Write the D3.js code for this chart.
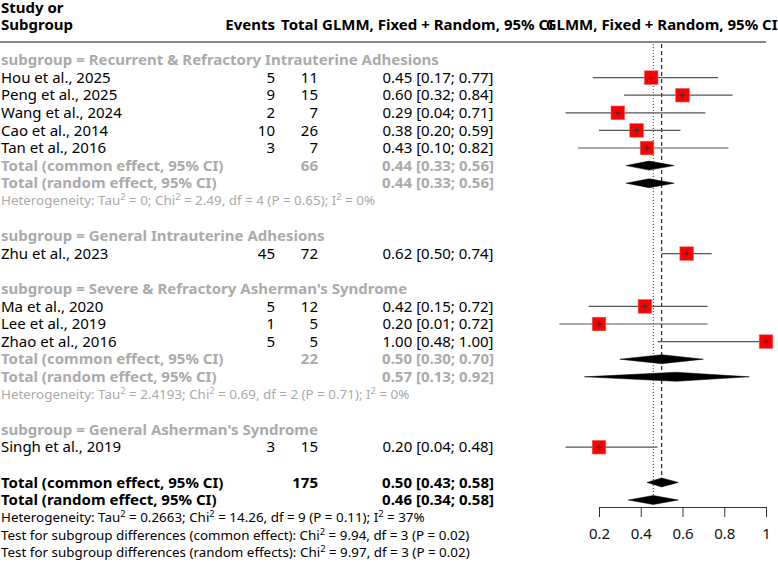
<!DOCTYPE html>
<html>
<head>
<meta charset="utf-8">
<script src="https://d3js.org/d3.v7.min.js"></script>
<style>
  body { margin: 0; background: #fff; font-family: "Noto Sans", sans-serif; }
  svg text { font-family: "Noto Sans", sans-serif; }
</style>
</head>
<body>
<script>
// study level data
var studyLabels = ["Hou et al., 2025", "Peng et al., 2025", "Wang et al., 2024", "Cao et al., 2014", "Tan et al., 2016",
                   "Zhu et al., 2023",
                   "Ma et al., 2020", "Lee et al., 2019", "Zhao et al., 2016",
                   "Singh et al., 2019"];
var studyGroup = [0, 0, 0, 0, 0, 1, 2, 2, 2, 3];
var events = [5, 9, 2, 10, 3, 45, 5, 1, 5, 3];
var totals = [11, 15, 7, 26, 7, 72, 12, 5, 5, 15];
var est   = [0.45, 0.60, 0.29, 0.38, 0.43, 0.62, 0.42, 0.20, 1.00, 0.20];
var lower = [0.17, 0.32, 0.04, 0.20, 0.10, 0.50, 0.15, 0.01, 0.48, 0.04];
var upper = [0.77, 0.84, 0.71, 0.59, 0.82, 0.74, 0.72, 0.72, 1.00, 0.48];

// subgroup data
var subgroupNames = ["Recurrent & Refractory Intrauterine Adhesions", "General Intrauterine Adhesions",
                     "Severe & Refractory Asherman's Syndrome", "General Asherman's Syndrome"];
var subTotal  = [66, null, 22, null];
var subCommon = [[0.44, 0.33, 0.56], null, [0.50, 0.30, 0.70], null];
var subRandom = [[0.44, 0.33, 0.56], null, [0.57, 0.13, 0.92], null];
var subHet = [["0", "2.49", "4", "0.65", "0%"], null, ["2.4193", "0.69", "2", "0.71", "0%"], null];

// overall
var overallTotal = 175;
var overallCommon = [0.50, 0.43, 0.58];
var overallRandom = [0.46, 0.34, 0.58];
var overallHet = ["0.2663", "14.26", "9", "0.11", "37%"];
var testCommon = ["9.94", "3", "0.02"];
var testRandom = ["9.97", "3", "0.02"];
var xTicks = [0.2, 0.4, 0.6, 0.8, 1];

var width = 778, height = 562;
var grey = "#aaaaaa";
var f2 = d3.format(".2f");

// build rows
var rows = [];
subgroupNames.forEach(function(name, g) {
    rows.push({type: "sub", label: "subgroup = " + name});
    studyGroup.forEach(function(sg, i) {
        if (sg === g) rows.push({type: "study", i: i});
    });
    if (subCommon[g]) {
        rows.push({type: "common", label: "Total (common effect, 95% CI)", total: subTotal[g], ci: subCommon[g], grey: true});
        rows.push({type: "random", label: "Total (random effect, 95% CI)", ci: subRandom[g], grey: true});
        rows.push({type: "het", h: subHet[g], grey: true});
    }
    rows.push({type: "blank"});
});
rows.push({type: "common", label: "Total (common effect, 95% CI)", total: overallTotal, ci: overallCommon});
rows.push({type: "random", label: "Total (random effect, 95% CI)", ci: overallRandom});
rows.push({type: "het", h: overallHet});
rows.push({type: "test", label: "Test for subgroup differences (common effect): ", t: testCommon});
rows.push({type: "test", label: "Test for subgroup differences (random effects): ", t: testRandom});

var y = d3.scaleLinear().domain([0, rows.length - 1]).range([60, 552.8]);
var x = d3.scaleLinear().domain([0.2, 1]).range([599, 766]);

var colStudy = 1, colEvents = 275, colTotal = 318, colCI = 438;
var plotCenter = (x(0) + x(1)) / 2;

var svg = d3.select("body").append("svg")
    .attr("width", width)
    .attr("height", height);

// header
function headText(txt, xx, yy, anchor) {
    svg.append("text").attr("x", xx).attr("y", yy).attr("dy", "0.35em")
        .attr("text-anchor", anchor).attr("font-size", 15).attr("font-weight", "bold")
        .attr("fill", "#000").text(txt);
}
headText("Study or", colStudy, y(-3) + 1, "start");
headText("Subgroup", colStudy, y(-2), "start");
headText("Events", colEvents, y(-2), "end");
headText("Total", colTotal, y(-2), "end");
headText("GLMM, Fixed + Random, 95% CI", colCI, y(-2), "middle");
headText("GLMM, Fixed + Random, 95% CI", plotCenter, y(-2), "middle");

svg.append("line")
    .attr("x1", 0).attr("x2", x(1))
    .attr("y1", 42).attr("y2", 42)
    .attr("stroke", "#888").attr("stroke-width", 2);

// reference lines
var iCommon = rows.length - 5, iRandom = rows.length - 4;
svg.append("line")
    .attr("x1", x(overallCommon[0])).attr("x2", x(overallCommon[0]))
    .attr("y1", 44).attr("y2", y(iCommon))
    .attr("stroke", "#333").attr("stroke-width", 1.3)
    .attr("stroke-dasharray", "4,3");
svg.append("line")
    .attr("x1", x(overallRandom[0])).attr("x2", x(overallRandom[0]))
    .attr("y1", 44).attr("y2", y(iRandom))
    .attr("stroke", "#333").attr("stroke-width", 1)
    .attr("stroke-dasharray", "1,2");

// text helper
function cell(txt, xx, yy, anchor, opts) {
    return svg.append("text").attr("x", xx).attr("y", yy).attr("dy", "0.35em")
        .attr("text-anchor", anchor)
        .attr("font-size", opts.size || 15)
        .attr("font-weight", opts.bold ? "bold" : "normal")
        .attr("fill", opts.fill || "#000")
        .text(txt);
}
function ciText(c) {
    return f2(c[0]) + " [" + f2(c[1]) + "; " + f2(c[2]) + "]";
}
function sup(t, txt) {
    t.append("tspan").attr("font-size", "70%").attr("dy", -5).text(txt);
    return t.append("tspan").attr("font-size", "100%").attr("dy", 5);
}
function hetLine(t, h) {
    t.append("tspan").text("Heterogeneity: Tau");
    sup(t, "2").text(" = " + h[0] + "; Chi");
    sup(t, "2").text(" = " + h[1] + ", df = " + h[2] + " (P = " + h[3] + "); I");
    sup(t, "2").text(" = " + h[4]);
}

function diamond(c, yy) {
    var hh = 4.5;
    svg.append("path")
        .attr("d", "M" + x(c[1]) + "," + yy + "L" + x(c[0]) + "," + (yy - hh) +
                   "L" + x(c[2]) + "," + yy + "L" + x(c[0]) + "," + (yy + hh) + "Z")
        .attr("fill", "#000").attr("stroke", "#000").attr("stroke-width", 0.5);
}

var box = 13.6;
rows.forEach(function(r, k) {
    var yy = y(k);
    var col = r.grey ? grey : "#000";
    if (r.type === "sub") {
        cell(r.label, colStudy, yy, "start", {bold: true, fill: grey});
    } else if (r.type === "study") {
        var i = r.i;
        cell(studyLabels[i], colStudy, yy, "start", {});
        cell(events[i], colEvents, yy, "end", {});
        cell(totals[i], colTotal, yy, "end", {});
        cell(ciText([est[i], lower[i], upper[i]]), colCI, yy, "middle", {});
        svg.append("line")
            .attr("x1", x(lower[i])).attr("x2", x(upper[i]))
            .attr("y1", yy).attr("y2", yy)
            .attr("stroke", "#555").attr("stroke-width", 1.2);
        svg.append("rect")
            .attr("x", x(est[i]) - box / 2).attr("y", yy - box / 2)
            .attr("width", box).attr("height", box)
            .attr("fill", "#ff0000").attr("stroke", "#e86060").attr("stroke-width", 0.6);
        svg.append("line")
            .attr("x1", x(est[i]) - 3).attr("x2", x(est[i]) + 3)
            .attr("y1", yy).attr("y2", yy)
            .attr("stroke", "#333").attr("stroke-width", 1);
        svg.append("line")
            .attr("x1", x(est[i])).attr("x2", x(est[i]))
            .attr("y1", yy - 3).attr("y2", yy + 3)
            .attr("stroke", "#333").attr("stroke-width", 1);
    } else if (r.type === "common" || r.type === "random") {
        cell(r.label, colStudy, yy, "start", {bold: true, fill: col});
        if (r.total != null) cell(r.total, colTotal, yy, "end", {bold: true, fill: col});
        cell(ciText(r.ci), colCI, yy, "middle", {bold: true, fill: col});
        diamond(r.ci, yy);
    } else if (r.type === "het") {
        var t = cell("", colStudy, yy, "start", {size: 13.4, fill: col});
        hetLine(t, r.h);
    } else if (r.type === "test") {
        var t2 = cell("", colStudy, yy, "start", {size: 13.4});
        t2.append("tspan").text(r.label + "Chi");
        sup(t2, "2").text(" = " + r.t[0] + ", df = " + r.t[1] + " (P = " + r.t[2] + ")");
    }
});

// x axis
var axisY = 507;
var ax = svg.append("g")
    .attr("transform", "translate(0," + axisY + ")")
    .call(d3.axisBottom(x).tickValues(xTicks).tickFormat(d3.format("~g"))
        .tickSize(10).tickSizeOuter(0).tickPadding(11));
ax.selectAll("text").attr("font-size", 15).attr("fill", "#111").style("font-family", "Noto Sans");
ax.selectAll("line").attr("stroke", "#333");
ax.select(".domain").attr("stroke", "#333");
</script>
</body>
</html>
